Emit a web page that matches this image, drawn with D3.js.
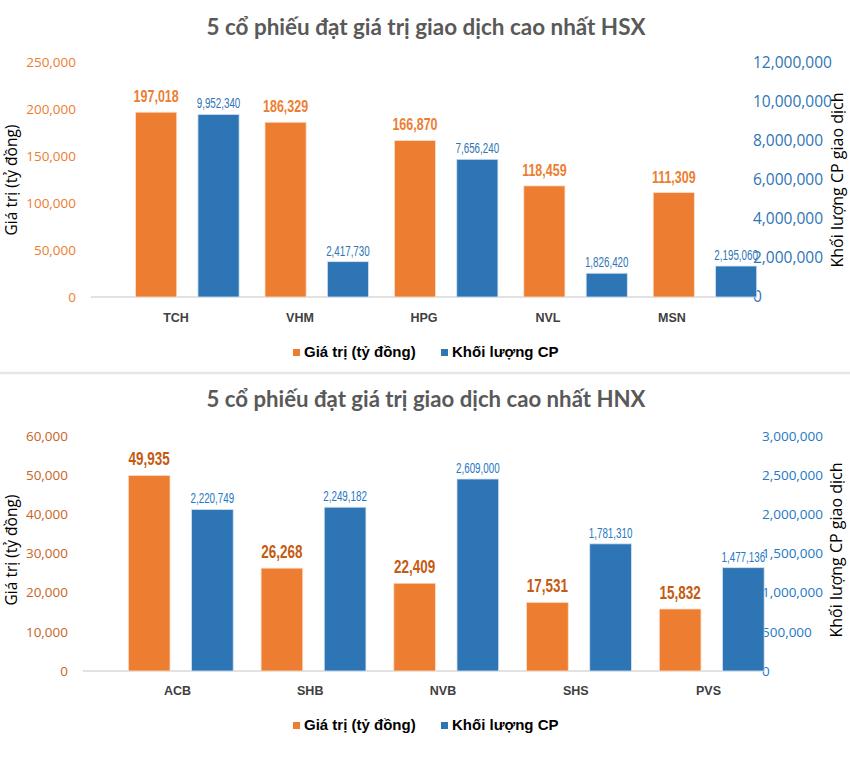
<!DOCTYPE html>
<html><head><meta charset="utf-8">
<script src="https://cdn.jsdelivr.net/npm/d3@7"></script>
<style>
html,body{margin:0;padding:0;background:#fff;}
svg{display:block;}
</style></head>
<body>
<svg id="c" width="850" height="773"></svg>
<script>
// ---------- DATA ----------
const hsxTitle = "5 cổ phiếu đạt giá trị giao dịch cao nhất HSX";
const hsxCategories = ["TCH", "VHM", "HPG", "NVL", "MSN"];
const hsxValue = [197018, 186329, 166870, 118459, 111309];
const hsxVolume = [9952340, 2417730, 7656240, 1826420, 2195060];
const hsxValueTicks = [0, 50000, 100000, 150000, 200000, 250000];
const hsxVolumeTicks = [0, 2000000, 4000000, 6000000, 8000000, 10000000, 12000000];

const hnxTitle = "5 cổ phiếu đạt giá trị giao dịch cao nhất HNX";
const hnxCategories = ["ACB", "SHB", "NVB", "SHS", "PVS"];
const hnxValue = [49935, 26268, 22409, 17531, 15832];
const hnxVolume = [2220749, 2249182, 2609000, 1781310, 1477136];
const hnxValueTicks = [0, 10000, 20000, 30000, 40000, 50000, 60000];
const hnxVolumeTicks = [0, 500000, 1000000, 1500000, 2000000, 2500000, 3000000];

const seriesNames = ["Giá trị (tỷ đồng)", "Khối lượng CP"];
const leftAxisTitle = "Giá trị (tỷ đồng)";
const rightAxisTitle = "Khối lượng CP giao dịch";

// ---------- DRAW ----------
const svg = d3.select("#c");
const fmt = d3.format(",");
const ORANGE = "#ED7D31", BLUE = "#2E75B6";
const tickFont = "'Open Sans', Lato, sans-serif";
const narrow = "'Liberation Sans', Arial, sans-serif";

// emulate a condensed (Arial Narrow-like) face
function condense(sel, f) {
  sel.each(function () {
    const w = this.getComputedTextLength();
    d3.select(this).attr("textLength", w * f).attr("lengthAdjust", "spacingAndGlyphs");
  });
}

function drawChart(o) {
  const g = svg.append("g");
  g.append("text").attr("x", 426).attr("y", o.titleY)
    .attr("text-anchor", "middle")
    .attr("font-family", "Lato, 'Open Sans', sans-serif").attr("font-weight", "bold")
    .attr("font-size", 22).attr("fill", "#595959")
    .attr("textLength", 439).attr("lengthAdjust", "spacingAndGlyphs")
    .text(o.title);

  const yL = d3.scaleLinear().domain([0, d3.max(o.valueTicks)]).range([o.y0, o.yTop]);
  const yR = d3.scaleLinear().domain([0, d3.max(o.volumeTicks)]).range([o.y0, o.yTop]);
  // volume bars sit on a shifted baseline in the source
  const yRBar = d3.scaleLinear().domain([o.volBase, o.volBase + d3.max(o.volumeTicks)]).range([o.y0, o.yTop]);

  const x = d3.scaleBand().domain(o.categories).range(o.xRange)
    .paddingInner(o.padInner).paddingOuter(o.padOuter);
  const xs = d3.scaleBand().domain(["v", "q"]).range([0, x.bandwidth()]).paddingInner(0.34);
  const xLab = d3.scaleBand().domain(o.categories).range(o.labelRange);

  g.append("line").attr("x1", o.axisX0).attr("x2", o.axisX1)
    .attr("y1", o.y0).attr("y2", o.y0).attr("stroke", "#d9d9d9").attr("stroke-width", 1.5);

  const la = g.append("g").attr("transform", `translate(${o.leftTickX},0)`)
    .call(d3.axisLeft(yL).tickValues(o.valueTicks).tickFormat(fmt).tickSize(0).tickPadding(0));
  la.select(".domain").remove();
  la.selectAll("text").attr("font-family", tickFont).attr("font-size", o.leftTickSize)
    .attr("fill", o.leftTickColor);

  const ra = g.append("g").attr("transform", `translate(${o.rightTickX},0)`)
    .call(d3.axisRight(yR).tickValues(o.volumeTicks).tickFormat(fmt).tickSize(0).tickPadding(0));
  ra.select(".domain").remove();
  ra.selectAll("text").attr("font-family", tickFont).attr("font-size", o.rightTickSize)
    .attr("fill", o.rightTickColor);

  g.append("text").attr("transform", `translate(${o.leftTitleX},${o.titleMidY}) rotate(-90)`)
    .attr("text-anchor", "middle").attr("font-family", tickFont).attr("font-size", 15.5)
    .attr("fill", "#000").text(leftAxisTitle);
  g.append("text").attr("transform", `translate(${o.rightTitleX},${o.titleMidY}) rotate(-90)`)
    .attr("text-anchor", "middle").attr("font-family", tickFont).attr("font-size", 16)
    .attr("fill", "#000").text(rightAxisTitle);

  const rows = o.categories.map((c, i) => ({ c, v: o.values[i], q: o.volumes[i] }));

  g.selectAll(".bv").data(rows).join("rect")
    .attr("x", d => x(d.c) + xs("v")).attr("width", xs.bandwidth())
    .attr("y", d => yL(d.v)).attr("height", d => o.y0 - yL(d.v))
    .attr("fill", ORANGE).attr("stroke", "#fbe0cc").attr("stroke-width", 0.8);
  g.selectAll(".bq").data(rows).join("rect")
    .attr("x", d => x(d.c) + xs("q")).attr("width", xs.bandwidth())
    .attr("y", d => yRBar(d.q)).attr("height", d => o.y0 - yRBar(d.q))
    .attr("fill", BLUE).attr("stroke", "#d5e3f2").attr("stroke-width", 0.8);

  const lv = g.selectAll(".lv").data(rows).join("text")
    .attr("x", d => x(d.c) + xs("v") + xs.bandwidth() / 2)
    .attr("y", d => yL(d.v) - 10)
    .attr("text-anchor", "middle").attr("font-family", narrow).attr("font-weight", "bold")
    .attr("font-size", o.valueLabelSize).attr("fill", o.valueLabelColor)
    .text(d => fmt(d.v));
  condense(lv, o.valueCondense);
  const lq = g.selectAll(".lq").data(rows).join("text")
    .attr("x", d => x(d.c) + xs("q") + xs.bandwidth() / 2)
    .attr("y", d => yRBar(d.q) - 6)
    .attr("text-anchor", "middle").attr("font-family", narrow)
    .attr("font-size", 14).attr("fill", o.volLabelColor)
    .text(d => fmt(d.q));
  condense(lq, 0.7);

  g.selectAll(".cl").data(rows).join("text")
    .attr("x", d => xLab(d.c) + xLab.bandwidth() / 2)
    .attr("y", o.catY)
    .attr("text-anchor", "middle").attr("font-family", "'Liberation Sans', Arial, sans-serif")
    .attr("font-weight", "bold").attr("font-size", 12.5).attr("fill", "#404040")
    .text(d => d.c);

  const lg = g.append("g").attr("transform", `translate(0,${o.legendY})`);
  const items = [{ n: seriesNames[0], c: ORANGE, x: 293 }, { n: seriesNames[1], c: BLUE, x: 441 }];
  items.forEach(it => {
    lg.append("rect").attr("x", it.x).attr("y", -8).attr("width", 7).attr("height", 7).attr("fill", it.c);
    lg.append("text").attr("x", it.x + 11).attr("y", 0)
      .attr("font-family", "'Liberation Sans', Arial, sans-serif").attr("font-weight", "bold")
      .attr("font-size", 15).attr("fill", "#000").text(it.n);
  });
}

drawChart({
  title: hsxTitle, titleY: 35, categories: hsxCategories, values: hsxValue, volumes: hsxVolume,
  valueTicks: hsxValueTicks, volumeTicks: hsxVolumeTicks, volBase: 610000,
  y0: 297, yTop: 62.5, xRange: [122.65, 769.65], padInner: 0.2, padOuter: 0.1,
  labelRange: [114, 734],
  axisX0: 91, axisX1: 757, leftTickX: 76, rightTickX: 753,
  leftTickSize: 13.5, rightTickSize: 15.5, leftTickColor: "#ED7D31", rightTickColor: "#2E75B6",
  leftTitleX: 17, rightTitleX: 843, titleMidY: 180,
  valueLabelSize: 16, valueCondense: 0.78, valueLabelColor: "#ED7D31", volLabelColor: "#2E75B6",
  catY: 322, legendY: 357
});

drawChart({
  title: hnxTitle, titleY: 407, categories: hnxCategories, values: hnxValue, volumes: hnxVolume,
  valueTicks: hnxValueTicks, volumeTicks: hnxVolumeTicks, volBase: 158000,
  y0: 671, yTop: 436, xRange: [114.4, 778.1], padInner: 0.21, padOuter: 0.105,
  labelRange: [111.1, 774.9],
  axisX0: 83, axisX1: 761, leftTickX: 68, rightTickX: 762,
  leftTickSize: 13.5, rightTickSize: 13.5, leftTickColor: "#C9651E", rightTickColor: "#2479C4",
  leftTitleX: 17, rightTitleX: 842, titleMidY: 550,
  valueLabelSize: 17.5, valueCondense: 0.77, valueLabelColor: "#C55A11", volLabelColor: "#2479C4",
  catY: 695, legendY: 730
});

svg.append("line").attr("x1", 0).attr("x2", 850).attr("y1", 373).attr("y2", 373)
  .attr("stroke", "#e6e6e6").attr("stroke-width", 2.5);
</script>
</body></html>
